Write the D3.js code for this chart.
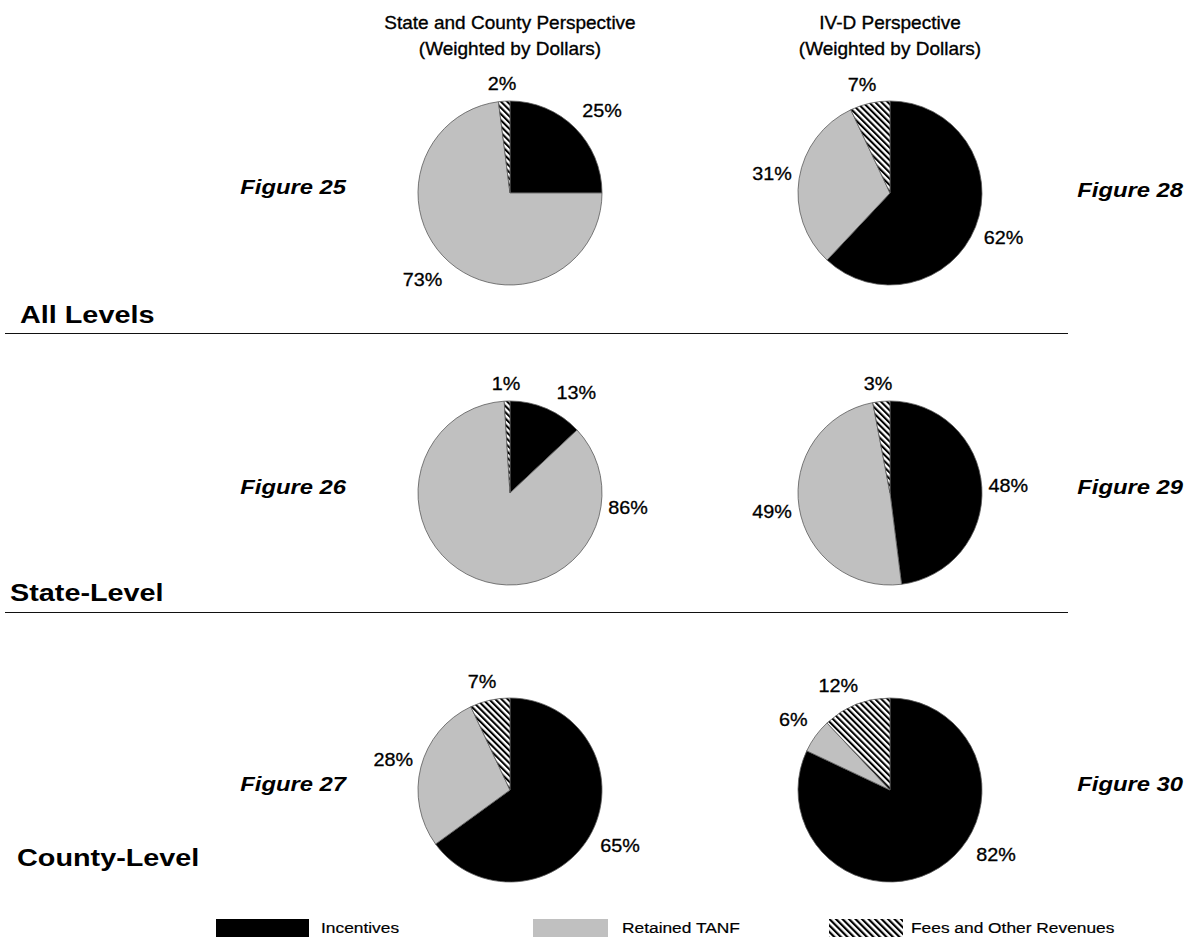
<!DOCTYPE html>
<html><head><meta charset="utf-8">
<script src="https://cdn.jsdelivr.net/npm/d3@7"></script>
<style>
html,body{margin:0;padding:0;background:#fff;}
svg{display:block;}
text{font-family:Arial,"Liberation Sans",sans-serif;fill:#000;}
</style></head>
<body>
<script>
// ---- data ----
const categories = ["Incentives", "Retained TANF", "Fees and Other Revenues"];
const figureNames = ["Figure 25", "Figure 26", "Figure 27", "Figure 28", "Figure 29", "Figure 30"];
const incentives   = [25, 13, 65, 62, 48, 82];
const retainedTANF = [73, 86, 28, 31, 49, 6];
const feesOther    = [2, 1, 7, 7, 3, 12];
const levelLabels = ["All Levels", "State-Level", "County-Level"];
const columnTitles = [["State and County Perspective", "(Weighted by Dollars)"], ["IV-D Perspective", "(Weighted by Dollars)"]];

// ---- layout ----
const W = 1188, H = 937;
const colX = [510, 890];
const rowY = [193, 493, 790];
const R = 92;
const colors = ["#000000", "#c0c0c0", "url(#hatch)"];
// label angles (degrees) for labels that were moved away from slice middle in the original
const labelAngleOverride = {"1-0": 28, "1-1": 97, "5-0": 122};

const svg = d3.select("body").append("svg").attr("width", W).attr("height", H);
const defs = svg.append("defs");
function hatch(id, p) {
  const pat = defs.append("pattern").attr("id", id).attr("patternUnits", "userSpaceOnUse")
    .attr("width", p).attr("height", p).attr("patternTransform", "rotate(-45)");
  pat.append("rect").attr("width", p).attr("height", p).attr("fill", "#fff");
  pat.append("rect").attr("x", 0).attr("width", p * 0.47).attr("height", p).attr("fill", "#000");
}
hatch("hatch", 4.4);
hatch("hatchLeg", 4.6);

function stretchedText(parent, x, y, sx, str) {
  return parent.append("text").attr("transform", `translate(${x},${y}) scale(${sx},1)`).text(str);
}

// column titles
columnTitles.forEach((t, c) => {
  t.forEach((line, li) => {
    stretchedText(svg, colX[c], 29 + li * 26, 1.0, line)
      .attr("text-anchor", "middle").attr("font-size", 19)
      .attr("stroke", "#000").attr("stroke-width", 0.35);
  });
});

const pie = d3.pie().sort(null).value(d => d.v);
const arc = d3.arc().innerRadius(0).outerRadius(R);
const labelSX = 1.1;

figureNames.forEach((name, i) => {
  const col = Math.floor(i / 3), row = i % 3;
  const cx = colX[col], cy = rowY[row];
  const vals = [incentives[i], retainedTANF[i], feesOther[i]].map((v, k) => ({v, k}));
  const arcs = pie(vals);
  const g = svg.append("g").attr("transform", `translate(${cx},${cy})`);
  g.selectAll("path").data(arcs).join("path")
    .attr("d", arc).attr("fill", d => colors[d.data.k])
    .attr("stroke", "#5a5a5a").attr("stroke-width", 0.8);
  arcs.forEach(a => {
    const key = `${i}-${a.data.k}`;
    const ang = key in labelAngleOverride ? labelAngleOverride[key] * Math.PI / 180 : (a.startAngle + a.endAngle) / 2;
    const s = Math.sin(ang), c = -Math.cos(ang);
    const t = stretchedText(g, 0, 0, labelSX, a.data.v + "%")
      .attr("font-size", 18).attr("text-anchor", "middle")
      .attr("dominant-baseline", "central").attr("stroke", "#000").attr("stroke-width", 0.3);
    const bb = t.node().getBBox();
    const hw = bb.width * labelSX / 2, hh = 10.5;
    const gap = 6 + 8 * Math.abs(s * c), k = 2;
    const px = (R + gap) * s + Math.sign(s) * hw * Math.min(1, k * Math.abs(s));
    const py = (R + gap) * c + Math.sign(c) * hh * Math.min(1, k * Math.abs(c));
    t.attr("transform", `translate(${px},${py}) scale(${labelSX},1)`);
  });
  // figure label
  const fx = col === 0 ? 346 : 1183;
  stretchedText(svg, fx, cy + (row === 0 && col === 1 ? 3 : 0) - 6, 1.19, name)
    .attr("text-anchor", "end").attr("dominant-baseline", "central")
    .attr("font-size", 20).attr("font-weight", "bold").attr("font-style", "italic");
});

// level labels and separators
const levelPos = [[20, 323], [10, 601], [17, 866]];
levelLabels.forEach((l, j) => {
  stretchedText(svg, levelPos[j][0], levelPos[j][1], 1.2, l)
    .attr("font-size", 24).attr("font-weight", "bold");
});
[333.5, 612.5].forEach(y => {
  svg.append("line").attr("x1", 5).attr("x2", 1068).attr("y1", y).attr("y2", y)
    .attr("stroke", "#111").attr("stroke-width", 1);
});

// legend
const legX = [216, 533, 829];
const legW = [93, 75, 74];
const legTextX = [321, 622, 911];
const legFill = ["#000000", "#c0c0c0", "url(#hatchLeg)"];
categories.forEach((c, k) => {
  svg.append("rect").attr("x", legX[k]).attr("y", 919).attr("width", legW[k]).attr("height", 18).attr("fill", legFill[k]);
  stretchedText(svg, legTextX[k], 933, 1.12, c).attr("font-size", 15.5)
    .attr("stroke", "#000").attr("stroke-width", 0.2);
});
</script>
</body></html>
